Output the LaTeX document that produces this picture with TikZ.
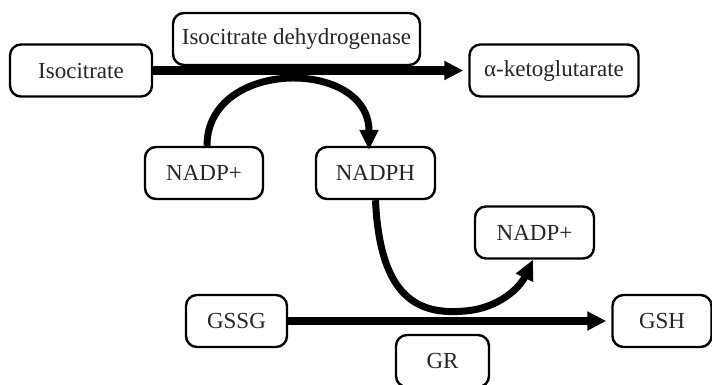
\documentclass[tikz,border=0pt]{standalone}
\usepackage{fontspec}
\setmainfont{Liberation Serif}
\usetikzlibrary{arrows.meta}
\begin{document}
\begin{tikzpicture}[x=1pt,y=-1pt,
  box/.style={draw=black,line width=2.4pt,rounded corners=11pt,fill=white,
    minimum height=52pt,inner sep=0pt,text=black!85,
    font=\fontsize{23}{27}\selectfont},
  thick arrow/.style={line width=8.5pt,-{Triangle[length=19pt,width=18pt]}},
  curve arrow/.style={line width=7pt,-{Triangle[length=20pt,width=18pt]}}]
\useasboundingbox (0,0) rectangle (712,384);
\node[box,minimum width=142pt] (iso) at (81,70.5) {Isocitrate};
\node[box,minimum width=247pt] (idh) at (296.5,39) {Isocitrate dehydrogenase};
\node[box,minimum width=169pt] (akg) at (554,70.5) {α-ketoglutarate};
\node[box,minimum width=118pt] (nadpa) at (204,173) {NADP+};
\node[box,minimum width=119pt] (nadph) at (375.5,173) {NADPH};
\node[box,minimum width=119pt] (nadpb) at (534.5,232.5) {NADP+};
\node[box,minimum width=101pt] (gssg) at (236.5,321) {GSSG};
\node[box,minimum width=99pt] (gsh) at (662,321) {GSH};
\node[box,minimum width=93pt] (gr) at (442.5,361) {GR};
\draw[thick arrow,shorten >=5pt] (iso.east) -- (akg.west);
\draw[thick arrow,shorten >=5pt] (gssg.east) -- (gsh.west);
\coordinate (a1) at (nadpa.north -| 207,0);
\coordinate (a2) at (nadph.north -| 369,0);
\draw[curve arrow] (a1) .. controls (207,58) and (369,58) .. ([yshift=-4pt]a2);
\coordinate (b1) at (nadph.south);
\coordinate (b2) at (nadpb.south -| 533,0);
\draw[curve arrow] (b1) .. controls (380,300) and (420,315) .. (465,311)
  .. controls (500,308) and (520,287) .. (b2);
\end{tikzpicture}
\end{document}
